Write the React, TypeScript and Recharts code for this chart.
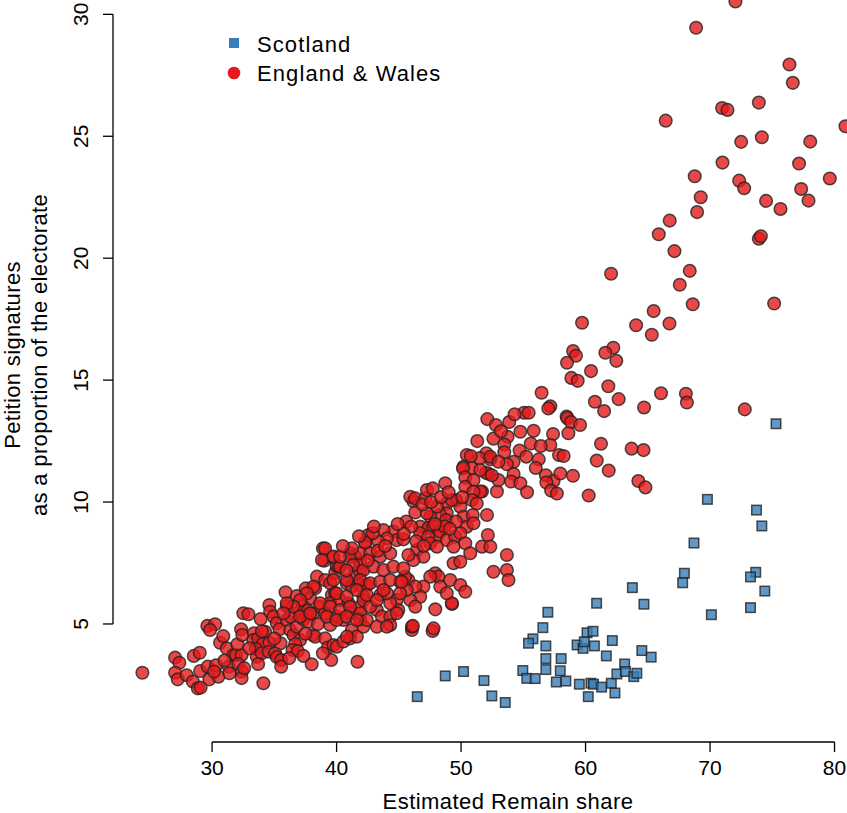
import { ScatterChart, Scatter, XAxis, YAxis, ReferenceLine, Label } from "recharts";

// axis setup (R style: 4% padding around data range)
const xTicks = [30, 40, 50, 60, 70, 80];
const yTicks = [5, 10, 15, 20, 25, 30];
const xDomain: [number, number] = [22.04, 85.5];
const yDomain: [number, number] = [0.16, 31.9];

// [estimated remain share, petition signatures as % of electorate]
const scotland: [number, number][] = [
	[75.3, 13.21], [69.79, 10.11], [73.73, 9.67], [74.16, 9.02], [68.71, 8.32], [67.94, 7.08], [67.8, 6.69],
	[73.67, 7.12], [73.25, 6.93], [74.4, 6.35], [63.76, 6.49], [60.89, 5.85], [64.69, 5.81], [70.11, 5.38],
	[73.25, 5.67], [56.97, 5.48], [56.57, 4.85], [55.77, 4.39], [55.42, 4.21], [56.81, 4.1], [60.12, 4.64],
	[60.6, 4.7], [59.32, 4.14], [59.8, 4.0], [59.9, 4.27], [60.71, 4.1], [62.15, 4.32], [61.67, 3.69],
	[64.52, 3.91], [65.27, 3.64], [56.81, 3.58], [58.04, 3.58], [56.81, 3.13], [57.97, 3.08], [54.96, 3.09],
	[55.28, 2.77], [55.95, 2.76], [57.65, 2.62], [58.42, 2.66], [59.5, 2.53], [60.43, 2.57], [60.64, 2.53],
	[61.29, 2.41], [62.07, 2.57], [60.22, 2.02], [62.36, 2.17], [63.14, 3.36], [62.52, 2.95], [63.2, 3.05],
	[63.87, 2.84], [64.12, 2.98], [48.73, 2.87], [50.2, 3.05], [51.84, 2.68], [46.48, 2.02], [52.47, 2.05],
	[53.55, 1.78],
];

const englandWales: [number, number][] = [
	// top right
	[72.04, 30.53], [68.88, 29.45], [76.38, 27.94], [76.65, 27.19], [70.97, 26.16], [71.4, 26.08], [73.92, 26.38],
	[66.44, 25.64], [80.88, 25.41], [72.5, 24.77], [74.16, 24.96], [78.05, 24.78], [71.0, 23.92], [77.15, 23.88],
	[68.77, 23.36], [79.62, 23.27], [72.34, 23.18], [72.74, 22.87], [77.32, 22.84], [69.25, 22.5], [74.5, 22.35],
	[77.91, 22.36], [75.66, 22.02], [68.96, 21.89], [66.76, 21.54], [65.88, 20.98], [73.92, 20.8], [74.08, 20.9],
	[67.14, 20.29], [62.05, 19.36], [68.37, 19.48], [67.57, 18.91], [68.61, 18.11], [75.15, 18.14], [65.47, 17.83],
	// upper middle
	[59.72, 17.35], [64.06, 17.25], [66.74, 17.32], [65.32, 16.86], [59.0, 16.19], [59.23, 16.0], [62.23, 16.33],
	[61.59, 16.12], [62.47, 15.79], [58.51, 15.71], [60.44, 15.37], [58.86, 15.09], [59.37, 14.97], [61.83, 14.75],
	[56.47, 14.48], [66.06, 14.46], [60.75, 14.11], [62.66, 14.22], [61.49, 13.73], [64.7, 13.88], [57.17, 13.93],
	[57.01, 13.84], [55.06, 13.66], [55.43, 13.66], [58.48, 13.51], [58.54, 13.44], [58.83, 13.28], [59.56, 13.16],
	[52.11, 13.4], [52.8, 13.16], [53.87, 13.28], [54.76, 12.88], [55.83, 12.92], [57.39, 12.79], [58.62, 12.82],
	[53.74, 12.68], [53.47, 12.36], [52.03, 12.0], [53.47, 12.04], [54.7, 12.11], [55.24, 11.86], [57.17, 12.34],
	[57.87, 11.93], [58.24, 11.89], [61.24, 12.39], [63.7, 12.19], [64.66, 12.13], [52.35, 11.75], [54.22, 11.65],
	[56.24, 11.75], [60.9, 11.7], [61.86, 11.29], [53.68, 11.55], [52.21, 11.16], [54.22, 11.15], [54.01, 10.84],
	[54.76, 10.77], [56.81, 11.1], [57.43, 10.86], [57.97, 11.17], [58.99, 11.08], [56.85, 10.8], [57.23, 10.47],
	[57.7, 10.35], [52.88, 10.43], [51.68, 10.43], [60.25, 10.27], [64.24, 10.86], [64.81, 10.6],
	[68.06, 14.44], [68.14, 14.08], [72.79, 13.8],
	[51.3, 12.5], [52.6, 12.6], [53.2, 12.9], [54.3, 13.6], [55.6, 12.4], [56.4, 12.3], [53.0, 10.9],
	[55.3, 10.4], [56.0, 11.4], [51.5, 11.8],
	[47.93, 5.6], [49.27, 5.82], [46.05, 4.75], [47.71, 4.71],
	// lower left
	[24.4, 3.0], [27.03, 3.62], [27.37, 3.41], [27.03, 3.0], [27.24, 2.73], [27.96, 2.9], [28.45, 2.64],
	[28.85, 2.36], [29.08, 2.39], [28.53, 3.69], [29.01, 3.82], [29.04, 3.07], [29.65, 3.25], [29.78, 2.73],
	[30.32, 3.31], [30.51, 2.84], [30.16, 3.05], [29.62, 4.92], [30.24, 4.99], [29.84, 4.75], [30.64, 4.23],
	[31.18, 4.0], [31.71, 3.73], [31.34, 3.25], [31.39, 2.98], [31.92, 3.73], [32.37, 3.73], [32.1, 3.36],
	[32.4, 3.05], [32.37, 2.78], [32.58, 3.19], [32.03, 4.17], [32.33, 4.78], [32.43, 4.55], [32.51, 5.44],
	[32.92, 5.4], [33.36, 4.62], [33.31, 4.34], [33.71, 4.41], [34.06, 4.18], [33.51, 3.98], [33.59, 3.66],
	[33.99, 3.8], [33.7, 3.36], [34.12, 2.57], [34.26, 4.68], [34.6, 5.78], [34.66, 5.5], [34.93, 5.3],
	[35.2, 5.03], [34.6, 4.23], [34.56, 3.86], [35.06, 3.8], [35.2, 3.64], [35.55, 3.52], [35.5, 4.21],
	[35.55, 3.25], [35.41, 4.78], [36.0, 5.74], [36.0, 5.16], [36.27, 4.75], [36.54, 4.55], [36.8, 4.89],
	[37.07, 4.34], [36.67, 4.18], [36.46, 3.93], [36.88, 3.89], [37.34, 3.69], [38.0, 3.35], [36.8, 6.15],
	[37.52, 6.46], [37.88, 6.05], [37.29, 5.74], [37.0, 5.5], [37.69, 5.55], [37.34, 5.19], [37.74, 5.1],
	[38.09, 5.41], [38.09, 4.55], [38.28, 4.48], [39.08, 4.41], [39.3, 4.03], [39.57, 3.52], [39.75, 4.14],
	[40.01, 4.07], [40.55, 4.28], [41.09, 4.41], [41.68, 3.45], [38.28, 6.46], [38.42, 6.94], [39.08, 6.8],
	[39.49, 6.67], [38.9, 8.1], [39.0, 7.59], [39.7, 7.73], [39.89, 7.1], [40.0, 7.38], [40.15, 7.35],
	[39.62, 6.19], [39.89, 6.26], [38.68, 5.71], [39.49, 5.85], [39.08, 5.44], [40.0, 5.3], [39.49, 4.96],
	[40.55, 5.16], [40.29, 5.98], [40.96, 5.85], [41.09, 5.44], [41.9, 5.71], [41.9, 5.16], [40.81, 6.67],
	[41.23, 6.53], [41.9, 6.6], [42.43, 6.6], [42.16, 6.12], [41.09, 7.9], [41.5, 7.76], [41.9, 7.49],
	[42.3, 8.31], [42.56, 8.65], [41.5, 7.08], [41.9, 7.14], [41.23, 4.75], [41.63, 4.48], [42.16, 4.89],
	[40.83, 4.48],
	[33.9, 5.2], [35.9, 6.3], [36.3, 5.3], [34.0, 4.7], [35.0, 4.4], [37.5, 4.6], [38.5, 5.0], [36.2, 3.6],
	[33.0, 4.0], [31.0, 3.5], [30.9, 4.5], [38.9, 3.8],
	// middle band
	[50.46, 11.93], [50.78, 11.89], [50.2, 11.45], [50.86, 11.38], [52.35, 11.86], [53.01, 11.65], [51.99, 11.2],
	[52.47, 11.1], [51.54, 11.31], [50.15, 11.38], [50.34, 11.01], [51.0, 10.9], [51.54, 10.43], [50.34, 10.63],
	[51.0, 10.43], [49.61, 10.08], [49.94, 9.81], [50.86, 10.08], [51.26, 9.94], [52.08, 9.47], [48.85, 9.94],
	[49.26, 10.08], [48.85, 9.54], [50.2, 9.4], [50.46, 8.99], [50.94, 9.47], [51.0, 9.13], [48.33, 9.47],
	[48.8, 9.26], [48.06, 9.81], [47.52, 9.4], [46.17, 10.03], [45.92, 10.22], [46.32, 10.15], [47.12, 10.15],
	[47.25, 10.49], [47.73, 10.56], [48.73, 10.77], [46.32, 9.57], [47.25, 9.54], [46.72, 8.99], [47.37, 8.93],
	[47.77, 8.99], [48.06, 8.58], [48.33, 8.79], [48.85, 8.44], [49.53, 8.58], [49.94, 8.72], [49.4, 8.17],
	[50.34, 8.31], [50.74, 7.9], [51.68, 8.17], [52.35, 8.17], [52.15, 8.65], [52.6, 7.14], [53.68, 7.21],
	[53.81, 6.8], [53.68, 7.83], [49.4, 7.49], [49.94, 7.55], [47.93, 7.08], [48.18, 6.94], [47.52, 6.94],
	[46.98, 6.53], [48.33, 6.53], [49.13, 6.8], [49.94, 6.6], [50.34, 6.32], [49.26, 5.85], [48.85, 6.26],
	[46.72, 6.12], [45.92, 5.98], [46.32, 5.71], [44.83, 5.98], [44.96, 5.57], [44.31, 5.85], [45.77, 6.8],
	[46.32, 6.53], [45.5, 6.94], [45.1, 6.73], [45.64, 6.39], [45.1, 6.26], [43.5, 6.19], [44.04, 6.26],
	[43.24, 5.57], [43.64, 5.3], [46.05, 4.89], [42.16, 5.98], [42.7, 5.71], [41.9, 5.44], [42.43, 5.16],
	[44.31, 5.3], [44.83, 5.44], [44.31, 4.96], [43.24, 4.89], [44.04, 4.89], [46.72, 8.72], [47.37, 8.58],
	[47.52, 8.31], [48.06, 8.17], [46.45, 8.03], [46.98, 7.76], [46.17, 7.62], [45.77, 7.83], [44.56, 8.79],
	[44.83, 8.44], [45.37, 8.47], [43.77, 8.85], [44.04, 8.51], [43.37, 8.37], [42.91, 8.72], [42.29, 8.34],
	[39.08, 8.1], [39.75, 7.76], [38.82, 7.62], [41.09, 7.76], [41.9, 7.9], [42.7, 7.9], [43.5, 7.76],
	[44.31, 7.9], [40.29, 7.35], [41.34, 7.42], [42.16, 7.21], [42.97, 7.35], [43.77, 7.21], [44.56, 7.35],
	[45.37, 7.28], [39.75, 6.8], [40.83, 6.8], [41.9, 6.8], [42.7, 6.67], [43.5, 6.73], [44.31, 6.8],
	[45.23, 6.73], [40.0, 6.26], [40.81, 6.12], [41.63, 6.39], [42.43, 6.19], [43.24, 5.98], [43.77, 6.39],
	[38.14, 6.53], [37.61, 6.26], [37.07, 5.98], [36.54, 5.71], [38.68, 5.85], [39.49, 5.71], [40.29, 5.57],
	[41.09, 5.71], [39.22, 5.3], [40.0, 5.16], [40.81, 5.3], [41.63, 5.16], [36.0, 5.85], [35.73, 5.44],
	[37.07, 5.3], [37.88, 5.44], [47.79, 4.82], [46.13, 4.92], [41.23, 8.1], [40.29, 7.76],
	[45.6, 9.2], [46.0, 9.0], [46.9, 9.9], [47.6, 10.0], [48.4, 10.2], [49.0, 10.4], [45.4, 8.7], [46.4, 8.4],
	[47.0, 8.2], [48.7, 9.0], [49.6, 9.2], [50.1, 10.2], [49.1, 8.9], [47.9, 9.1],
	[40.5, 8.2], [41.8, 8.6], [43.0, 9.0], [43.3, 8.0], [44.9, 9.1], [42.5, 7.6], [40.8, 7.2], [43.9, 8.2],
];

const toRows = (pts: [number, number][]) => pts.map(([remain, signatures]) => ({ remain, signatures }));
const scotlandRows = toRows(scotland);
const ewRows = toRows(englandWales);

const FONT = '"Liberation Sans", Arial, Helvetica, sans-serif';
const RED = "#E41A1C";
const BLUE = "#377EB8";

const RedDot = (props: any) => (
	<circle cx={props.cx} cy={props.cy} r={6.3} fill={RED} fillOpacity={0.8} stroke="#222" strokeOpacity={0.8} strokeWidth={1.5} />
);

const BlueSquare = (props: any) => {
	const s = 9.5;
	return (
		<rect x={props.cx - s / 2} y={props.cy - s / 2} width={s} height={s} fill={BLUE} fillOpacity={0.8} stroke="#222" strokeOpacity={0.8} strokeWidth={1.5} />
	);
};

const XTick = ({ x, y, payload }: any) => (
	<text x={x} y={y} dy={21} textAnchor="middle" fontSize={21} fill="#000">{payload.value}</text>
);

const YTick = ({ x, y, payload }: any) => (
	<text x={x - 12.5} y={y} transform={`rotate(-90, ${x - 12.5}, ${y})`} textAnchor="middle" fontSize={21} fill="#000">
		{payload.value}
	</text>
);

const XTitle = ({ viewBox }: any) => (
	<text x={viewBox.x + viewBox.width / 2} y={viewBox.y + 67} textAnchor="middle" fontSize={22} letterSpacing={0.45} fill="#000">
		Estimated Remain share
	</text>
);

const YTitle = ({ viewBox }: any) => {
	const cy = viewBox.y + viewBox.height / 2;
	return (
		<g fontSize={22} fill="#000" letterSpacing={0.35}>
			<text transform={`translate(20, ${cy}) rotate(-90)`} textAnchor="middle">Petition signatures</text>
			<text transform={`translate(47, ${cy}) rotate(-90)`} textAnchor="middle">as a proportion of the electorate</text>
		</g>
	);
};

export default function App() {
	return (
		<div style={{ position: "absolute", left: 0, top: 0, width: 847, height: 813, overflow: "hidden", background: "#fff", fontFamily: FONT }}>
			<div style={{ position: "absolute", left: 0, top: -32 }}>
				<ScatterChart width={903} height={845} margin={{ top: 0, right: 0, bottom: 0, left: 0 }} style={{ fontFamily: FONT }}>
					<XAxis
						type="number"
						dataKey="remain"
						domain={xDomain}
						ticks={xTicks}
						allowDataOverflow
						height={71}
						tickSize={10}
						axisLine={false}
						tickLine={{ stroke: "#000", strokeWidth: 1.3 }}
						tick={<XTick />}
					>
						<Label content={<XTitle />} />
					</XAxis>
					<YAxis
						type="number"
						dataKey="signatures"
						domain={yDomain}
						ticks={yTicks}
						allowDataOverflow
						width={113}
						tickSize={10}
						axisLine={false}
						tickLine={{ stroke: "#000", strokeWidth: 1.3 }}
						tick={<YTick />}
					>
						<Label content={<YTitle />} />
					</YAxis>
					<ReferenceLine segment={[{ x: 30, y: yDomain[0] }, { x: 80, y: yDomain[0] }]} stroke="#000" strokeWidth={1.3} ifOverflow="visible" />
					<ReferenceLine segment={[{ x: xDomain[0], y: 5 }, { x: xDomain[0], y: 30 }]} stroke="#000" strokeWidth={1.3} ifOverflow="visible" />
					<Scatter name="Scotland" data={scotlandRows} shape={<BlueSquare />} isAnimationActive={false} />
					<Scatter name="England & Wales" data={ewRows} shape={<RedDot />} isAnimationActive={false} />
				</ScatterChart>
			</div>
			<svg style={{ position: "absolute", left: 220, top: 20 }} width={260} height={80} fontFamily={FONT}>
				<rect x={9} y={18} width={10} height={10} fill={BLUE} />
				<circle cx={14} cy={53} r={6.3} fill={RED} />
				<text x={37} y={32} fontSize={22} letterSpacing={1.1} fill="#000">Scotland</text>
				<text x={37} y={61} fontSize={22} letterSpacing={1.1} fill="#000">England &amp; Wales</text>
			</svg>
		</div>
	);
}
